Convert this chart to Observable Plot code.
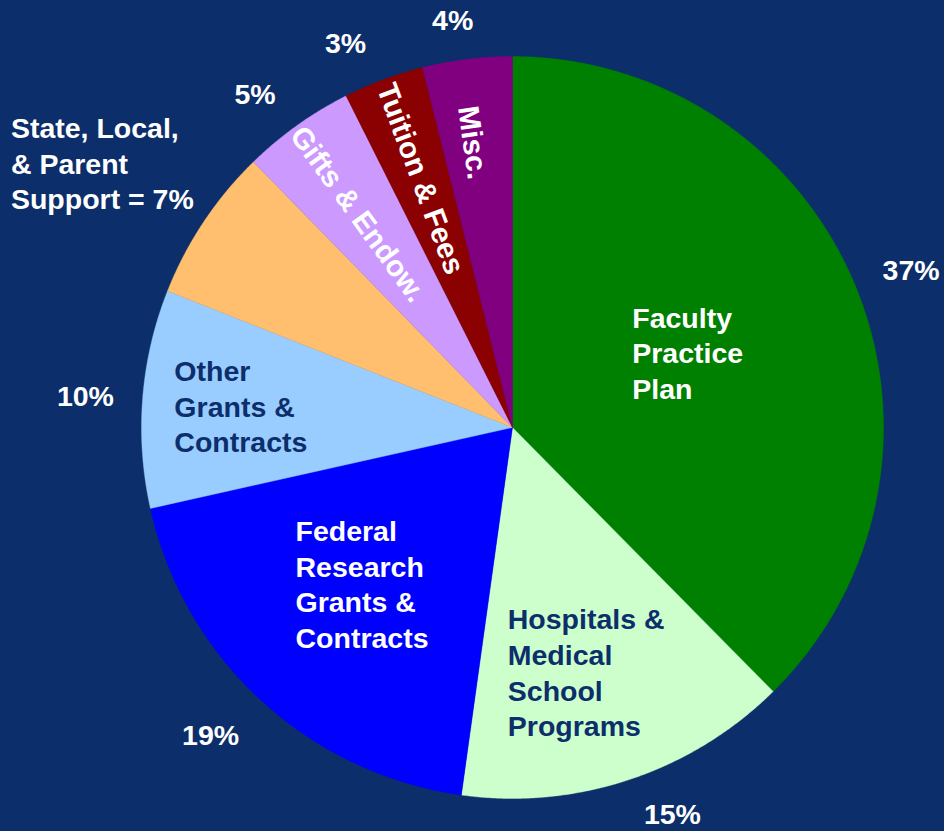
<!DOCTYPE html>
<html>
<head>
<meta charset="utf-8">
<script src="https://cdn.jsdelivr.net/npm/d3@7"></script>
<script src="https://cdn.jsdelivr.net/npm/@observablehq/plot@0.6"></script>
<style>
  html, body { margin: 0; padding: 0; background: #0c2e6a; }
  #chart { width: 944px; height: 831px; }
</style>
</head>
<body>
<div id="chart"></div>
<script>
// ---- data ----
const categories = [
  "Faculty Practice Plan",
  "Hospitals & Medical School Programs",
  "Federal Research Grants & Contracts",
  "Other Grants & Contracts",
  "State, Local, & Parent Support",
  "Gifts & Endow.",
  "Tuition & Fees",
  "Misc."
];
// slice shares as drawn (percent of total)
const shares = [37.6, 14.6, 19.3, 9.5, 6.7, 4.9, 3.5, 3.9];
// printed percentage labels (null = percent is part of the slice label)
const percentLabels = ["37%", "15%", "19%", "10%", null, "5%", "3%", "4%"];
const sliceLabels = [
  "Faculty\nPractice\nPlan",
  "Hospitals &\nMedical\nSchool\nPrograms",
  "Federal\nResearch\nGrants &\nContracts",
  "Other\nGrants &\nContracts",
  "State, Local,\n& Parent\nSupport = 7%",
  "Gifts & Endow.",
  "Tuition & Fees",
  "Misc."
];
const colors = ["#008000", "#ccffcc", "#0000ff", "#99ccff", "#ffbf6e", "#cc99ff", "#8b0000", "#800080"];

// ---- layout / style ----
const BG = "#0c2e6a";
const NAVY = "#0c2e6a";
const FONT = "'Liberation Sans', Arial, Helvetica, sans-serif";
// label placement in polar terms (angle clockwise from top, radius as fraction of pie radius)
const labelLayout = [
  {mode: "block", angle: 58.4, r: 0.379, fill: "white"},
  {mode: "block", angle: 181.1, r: 0.663, fill: NAVY},
  {mode: "block", angle: 234.0, r: 0.723, fill: "white"},
  {mode: "block", angle: 273.4, r: 0.913, fill: NAVY},
  {mode: "block", angle: 297.7, r: 1.527, fill: "white"},
  {mode: "radial", shift: -0.5, r: 0.71, fill: "white"},
  {mode: "radial", shift: 0, r: 0.715, fill: "white"},
  {mode: "radial", shift: -1.0, r: 0.775, fill: "white"}
];
const percentLayout = [
  {angle: 68.7, r: 1.153},
  {angle: 157.6, r: 1.131},
  {angle: 224.3, r: 1.165},
  {angle: 274.0, r: 1.154},
  null,
  {angle: 322.2, r: 1.132},
  {angle: 336.4, r: 1.124},
  {angle: 351.6, r: 1.104}
];

// ---- derived geometry (unit circle, angle clockwise from top) ----
const total = d3.sum(shares);
let acc = 0;
const slices = categories.map((c, i) => {
  const a0 = acc / total * 360;
  acc += shares[i];
  const a1 = acc / total * 360;
  return {category: c, a0, a1, mid: (a0 + a1) / 2, color: colors[i], i};
});
const polar = (deg, r) => {
  const t = deg * Math.PI / 180;
  return {x: r * Math.sin(t), y: r * Math.cos(t)};
};
const slicePolygon = (s) => {
  const pts = [{x: 0, y: 0}];
  const n = Math.max(2, Math.ceil((s.a1 - s.a0) / 0.25));
  for (let k = 0; k <= n; k++) pts.push(polar(s.a0 + (s.a1 - s.a0) * k / n, 1));
  pts.push({x: 0, y: 0});
  return pts;
};

const blockLabels = [];
const radialLabels = [];
slices.forEach((s, i) => {
  const L = labelLayout[i];
  if (L.mode === "block") {
    const p = polar(L.angle, L.r);
    blockLabels.push({...p, text: sliceLabels[i], fill: L.fill});
  } else {
    const a = s.mid + L.shift;
    const p = polar(a, L.r);
    const signed = a > 180 ? a - 360 : a;
    radialLabels.push({...p, text: sliceLabels[i], fill: L.fill, rotate: 90 + signed});
  }
});
const pctData = slices
  .filter((s, i) => percentLabels[i] !== null)
  .map(s => ({...polar(percentLayout[s.i].angle, percentLayout[s.i].r), text: percentLabels[s.i]}));

const plot = Plot.plot({
  width: 944,
  height: 831,
  marginLeft: 141,
  marginRight: 61,
  marginTop: 56,
  marginBottom: 33,
  x: {domain: [-1, 1], axis: null},
  y: {domain: [-1, 1], axis: null},
  style: {background: BG, fontFamily: FONT},
  marks: [
    ...slices.map(s => Plot.line(slicePolygon(s), {
      x: "x", y: "y", fill: s.color, stroke: s.color, strokeWidth: 0.4, curve: "linear"
    })),
    Plot.text(blockLabels, {
      x: "x", y: "y", text: "text", fill: "fill", dy: -2,
      textAnchor: "start", lineAnchor: "middle", lineHeight: 1.25,
      fontSize: 28.5, fontWeight: "bold", fontFamily: FONT
    }),
    Plot.text(radialLabels, {
      x: "x", y: "y", text: "text", fill: "fill", rotate: "rotate",
      textAnchor: "middle", lineAnchor: "middle",
      fontSize: 29.5, fontWeight: "bold", fontFamily: FONT
    }),
    Plot.text(pctData, {
      x: "x", y: "y", text: "text", fill: "white", dy: -1,
      textAnchor: "middle", lineAnchor: "middle",
      fontSize: 28.5, fontWeight: "bold", fontFamily: FONT
    })
  ]
});
document.getElementById("chart").appendChild(plot);
</script>
</body>
</html>
